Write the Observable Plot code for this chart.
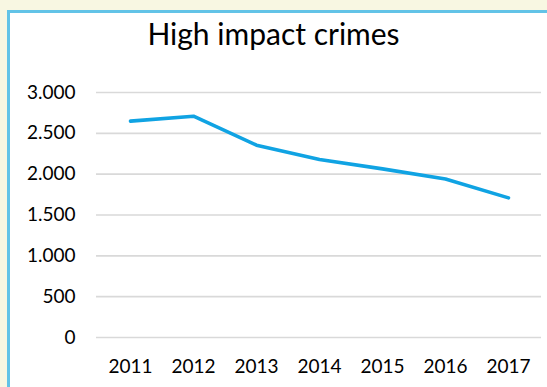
<!DOCTYPE html>
<html>
<head>
<meta charset="utf-8">
<script src="https://cdn.jsdelivr.net/npm/d3@7"></script>
<script src="https://cdn.jsdelivr.net/npm/@observablehq/plot@0.6"></script>
<style>
  html, body { margin: 0; padding: 0; width: 547px; height: 387px; overflow: hidden; background: #f8f7e2; }
  #box { position: absolute; left: 7px; top: 10px; width: 600px; height: 420px; background: #ffffff;
         border-left: 3px solid #62c3e7; border-top: 3px solid #62c3e7; }
  #title { position: absolute; left: 0; width: 547px; top: 15px; text-align: center;
           font-family: Lato, sans-serif; font-size: 30px; color: #000; line-height: 36px; }
  #chart { position: absolute; left: 0; top: 60px; }
</style>
</head>
<body>
<div id="box"></div>
<div id="title">High impact crimes</div>
<div id="chart"></div>
<script>
const years = ["2011", "2012", "2013", "2014", "2015", "2016", "2017"];
const crimes = [2650, 2710, 2355, 2180, 2065, 1940, 1710];
const yTicks = [0, 500, 1000, 1500, 2000, 2500, 3000];

const data = years.map((y, i) => ({year: y, value: crimes[i]}));
const fmt = d3.formatLocale({thousands: ".", decimal: ",", grouping: [3], currency: ["", ""]}).format(",");

const chart = Plot.plot({
  width: 547,
  height: 327,
  marginTop: 32,
  marginBottom: 50,
  marginLeft: 96,
  marginRight: 6,
  style: {fontFamily: "Lato, sans-serif", fontSize: "19px", color: "#000", background: "transparent"},
  x: {type: "point", domain: years, padding: 0.5, label: null},
  y: {domain: [0, 3000], ticks: yTicks, label: null, tickFormat: fmt},
  marks: [
    Plot.ruleY(yTicks, {stroke: "#d9d9d9", strokeWidth: 1.6}),
    Plot.axisY({ticks: yTicks, tickSize: 0, tickPadding: 21, tickFormat: fmt, label: null}),
    Plot.axisX({tickSize: 0, tickPadding: 22, label: null}),
    Plot.lineY(data, {x: "year", y: "value", stroke: "#10a3e3", strokeWidth: 3.6, strokeLinejoin: "round", strokeLinecap: "round"})
  ]
});
document.getElementById("chart").appendChild(chart);
</script>
</body>
</html>
